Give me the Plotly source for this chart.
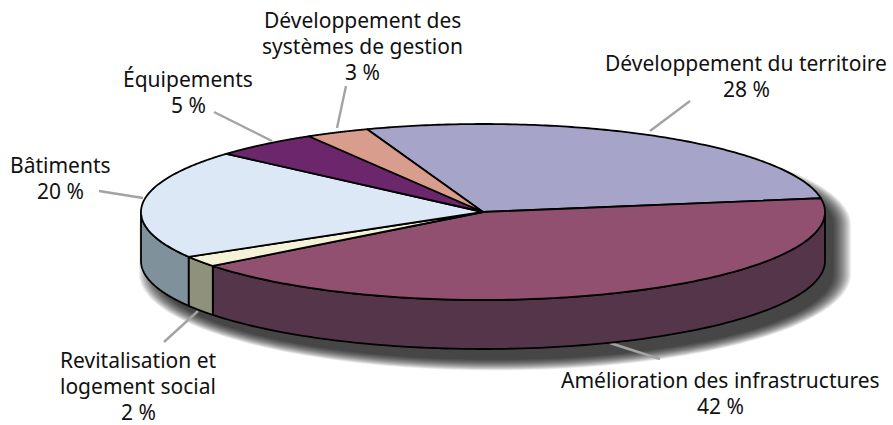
import numpy as np
import plotly.graph_objects as go

# data, clockwise from the start of the first slice
categories = ["Développement du territoire", "Amélioration des infrastructures",
              "Revitalisation et logement social", "Bâtiments", "Équipements",
              "Développement des systèmes de gestion"]
shares = [28, 42, 2, 20, 5, 3]
label_lines = [["Développement du territoire", "28 %"],
               ["Amélioration des infrastructures", "42 %"],
               ["Revitalisation et", "logement social", "2 %"],
               ["Bâtiments", "20 %"],
               ["Équipements", "5 %"],
               ["Développement des", "systèmes de gestion", "3 %"]]
top_colors = ["#a7a4c9", "#91506f", "#f5f3d7", "#dce8f5", "#6c276c", "#d99d8e"]
side_colors = ["#6b6a85", "#55354a", "#8f917c", "#7f929c", "#4a1c4a", "#8f675d"]
label_x = [746, 720, 138, 60, 188, 362]
label_y = [63, 380, 360, 165, 79, 20]
leader_x = [[650, 690], [610, 660], [198, 164], [143, 99], [272, 214], [337, 346]]
leader_y = [[131, 101], [343, 359], [311, 342], [198, 191], [141, 112], [128, 86]]

CX, CY, RX, RY, DEPTH = 483, 212, 342, 88, 49
START_DEG = -19.8
LINE_STEP = 26


def rim(t_deg, dy=0.0, grow=0.0, dx=0.0):
    t = np.radians(t_deg)
    return (CX + dx + (RX + grow) * np.sin(t), CY + dy - (RY + 0.6 * grow) * np.cos(t))


fig = go.Figure()


def poly(x, y, fill, line_color="black", width=1.8):
    fig.add_trace(go.Scatter(x=list(x) + [x[0]], y=list(y) + [y[0]], mode="lines", fill="toself",
                             fillcolor=fill, hoverinfo="skip", showlegend=False,
                             line=dict(color=line_color, width=width, shape="linear", simplify=False)))


# soft drop shadow of the disc silhouette, drawn as shapes beneath the traces
for g in np.linspace(14, -4, 18):
    ta = np.linspace(-90, 90, 120)
    x1, y1 = rim(ta, dy=13, grow=g, dx=12)
    tb = np.linspace(90, 270, 120)
    x2, y2 = rim(tb, dy=13 + DEPTH, grow=g, dx=12)
    xs, ys = np.r_[x1, x2], np.r_[y1, y2]
    path = "M " + " L ".join(f"{a:.2f},{b:.2f}" for a, b in zip(xs, ys)) + " Z"
    fig.add_shape(type="path", path=path, xref="x", yref="y", layer="below",
                  fillcolor="rgba(0,0,0,0.065)", line=dict(width=0))

# leader lines
for lx, ly in zip(leader_x, leader_y):
    fig.add_trace(go.Scatter(x=lx, y=ly, mode="lines", hoverinfo="skip", showlegend=False,
                             line=dict(color="#a3a3a3", width=2.4)))

edges = START_DEG + np.cumsum([0] + shares) * 3.6

# side wall: only the front half of the disc is visible
for i in range(len(shares)):
    a, b = max(edges[i], 90), min(edges[i + 1], 270)
    if b <= a:
        continue
    t = np.linspace(a, b, 100)
    x1, y1 = rim(t)
    x2, y2 = rim(t[::-1], dy=DEPTH)
    poly(np.r_[x1, x2], np.r_[y1, y2], side_colors[i])

# top face
for i in range(len(shares)):
    t = np.linspace(edges[i], edges[i + 1], 140)
    x, y = rim(t)
    poly(np.r_[CX, x], np.r_[CY, y], top_colors[i])

for lines, x, y in zip(label_lines, label_x, label_y):
    for k, text in enumerate(lines):
        fig.add_annotation(x=x, y=y + k * LINE_STEP, text=text, showarrow=False, xref="x", yref="y",
                           align="center", xanchor="center", yanchor="middle",
                           font=dict(family="Noto Sans", size=21, color="#111111"))

fig.update_layout(width=893, height=425, margin=dict(l=0, r=0, t=0, b=0),
                  paper_bgcolor="white", plot_bgcolor="white", showlegend=False,
                  xaxis=dict(range=[0, 893], visible=False, fixedrange=True),
                  yaxis=dict(range=[425, 0], visible=False, fixedrange=True))
fig.write_html("out.html", config={"displayModeBar": False},
               post_script="document.body.style.margin='0';document.body.style.overflow='hidden';")
